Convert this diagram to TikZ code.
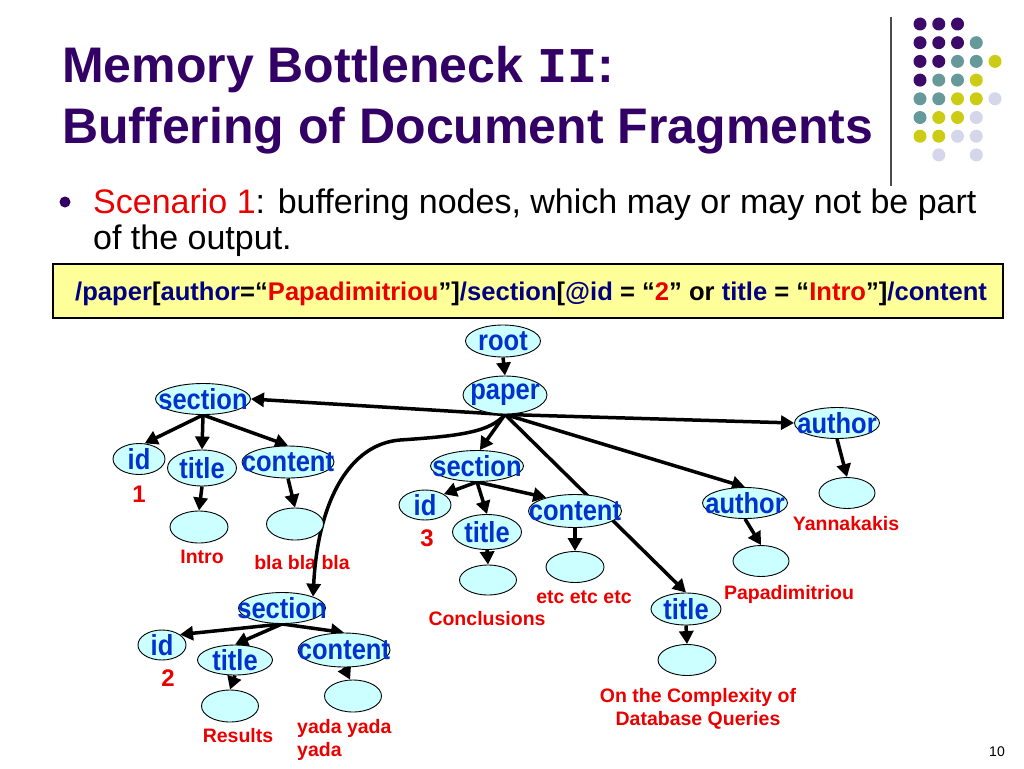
\documentclass[tikz,border=0pt]{standalone}
\usepackage{fontspec}
\setmainfont{Liberation Sans}
\newfontfamily\monof{Liberation Mono}
\newfontfamily\nodef[FakeStretch=0.88]{Liberation Sans}
\usetikzlibrary{arrows.meta,shapes.geometric}
\pgfdeclarelayer{bg}
\pgfdeclarelayer{mid}
\pgfsetlayers{bg,mid,main}
\definecolor{titlepurple}{RGB}{51,0,102}
\definecolor{dotpurple}{RGB}{60,10,105}
\definecolor{dotteal}{RGB}{102,153,153}
\definecolor{dotyellow}{RGB}{204,204,20}
\definecolor{dotlav}{RGB}{214,214,235}
\definecolor{nodefill}{RGB}{204,255,255}
\definecolor{nodeblue}{RGB}{0,51,204}
\definecolor{lblred}{RGB}{235,0,0}
\definecolor{qnavy}{RGB}{0,0,128}
\definecolor{qyellow}{RGB}{255,255,153}
\begin{document}
\begin{tikzpicture}[x=1pt,y=-1pt,
  en/.style 2 args={ellipse, draw=black, line width=0.9pt, fill=nodefill, inner sep=0pt, minimum width=#1pt, minimum height=#2pt},
  nt/.style={font=\nodef\bfseries\fontsize{29}{29}\selectfont, text=nodeblue, inner sep=0pt},
  arr/.style={line width=3.5pt, -{Triangle[length=13pt,width=14pt]}},
  rl/.style={font=\bfseries\fontsize{19.5}{23}\selectfont, text=lblred, align=center, inner sep=0pt},
  num/.style={font=\bfseries\fontsize{24}{24}\selectfont, text=lblred, inner sep=0pt}
]
\begin{pgfonlayer}{bg}
\fill[white] (0,0) rectangle (1024,768);
\end{pgfonlayer}
\useasboundingbox (0,0) rectangle (1024,768);

% decoration
\draw[line width=1.5pt, black!70] (891,17) -- (891,186);
\foreach \c/\r/\col in {0/0/dotpurple,1/0/dotpurple,2/0/dotpurple,
  0/1/dotpurple,1/1/dotpurple,2/1/dotpurple,3/1/dotteal,
  0/2/dotpurple,1/2/dotpurple,2/2/dotteal,3/2/dotteal,4/2/dotyellow,
  0/3/dotpurple,1/3/dotteal,2/3/dotteal,3/3/dotyellow,
  0/4/dotteal,1/4/dotteal,2/4/dotyellow,3/4/dotyellow,4/4/dotlav,
  0/5/dotteal,1/5/dotyellow,2/5/dotyellow,3/5/dotlav,
  0/6/dotyellow,1/6/dotyellow,2/6/dotlav,3/6/dotlav,
  1/7/dotlav,3/7/dotlav}
  \fill[\col] (920+18.75*\c, 24+18.7*\r) circle (6.5pt);

% title
\node[anchor=base west, inner sep=0pt, font=\bfseries\fontsize{50}{60}\selectfont, text=titlepurple] (t1line) at (62,82) {Memory Bottleneck {\monof II}:};
\node[anchor=base west, inner sep=0pt, font=\bfseries\fontsize{50}{60}\selectfont, text=titlepurple] (t2line) at (62,143) {Buffering of Document Fragments};

% bullet
\fill[titlepurple] (65,202) circle (5.5pt);
\node[anchor=base west, inner sep=0pt, font=\fontsize{34}{35}\selectfont] (b1) at (93,213) {\textcolor{lblred}{Scenario 1}: buffering nodes, which may or may not be part};
\node[anchor=base west, inner sep=0pt, font=\fontsize{34}{35}\selectfont] (b2) at (93,249) {of the output.};

% query box
\draw[line width=2.5pt, fill=qyellow] (53,264) rectangle (1003,318);
\node[anchor=base west, inner sep=0pt, font=\bfseries\fontsize{25.6}{26}\selectfont] (q) at (75,300) {\textcolor{qnavy}{/paper}[\textcolor{qnavy}{author}=“\textcolor{lblred}{Papadimitriou}”]\textcolor{qnavy}{/section}[\textcolor{qnavy}{@id} = “\textcolor{lblred}{2}” or \textcolor{qnavy}{title} = “\textcolor{lblred}{Intro}”]\textcolor{qnavy}{/content}};

% tree nodes
\node[en={75}{32}, label={[nt]center:root}] (root) at (503,341) {};
\node[en={84}{38}, label={[nt]center:paper}] (paper) at (505,395) {};
\node[en={95}{31}, label={[nt]center:section}] (s1) at (203,399) {};
\node[en={85}{31}, label={[nt]center:author}] (a1) at (837,423) {};
\node[en={52}{31}, label={[nt]center:id}] (id1) at (139,459) {};
\node[en={69}{36}, label={[nt]center:title}] (ti1) at (202,468) {};
\node[en={92}{32}, label={[nt]center:content}] (c1) at (288,462) {};
\node[en={58}{32}] (lt1) at (199,527) {};
\node[en={57}{32}] (lc1) at (295,524) {};
\node[en={93}{31}, label={[nt]center:section}] (s3) at (477,466) {};
\node[en={52}{30}, label={[nt]center:id}] (id3) at (425,505) {};
\node[en={69}{35}, label={[nt]center:title}] (ti3) at (487,532) {};
\node[en={93}{33}, label={[nt]center:content}] (c3) at (575,511) {};
\node[en={57}{30}] (lt3) at (488,580) {};
\node[en={58}{31}] (lc3) at (575,567) {};
\node[en={85}{31}, label={[nt]center:author}] (a2) at (745,503) {};
\node[en={56}{31}] (la2) at (761,561) {};
\node[en={56}{31}] (la1) at (847,493) {};
\node[en={70}{32}, label={[nt]center:title}] (ti4) at (686,609) {};
\node[en={58}{31}] (lt4) at (687,660) {};
\node[en={87}{31}, label={[nt]center:section}] (s2) at (282,608) {};
\node[en={48}{30}, label={[nt]center:id}] (id2) at (162,645) {};
\node[en={75}{30}, label={[nt]center:title}] (ti2) at (235,660) {};
\node[en={92}{34}, label={[nt]center:content}] (c2) at (344,650) {};
\node[en={57}{32}] (lt2) at (230,706) {};
\node[en={57}{32}] (lc2) at (353,696) {};

% labels
\begin{pgfonlayer}{bg}
\node[rl] (vintro) at (202,557) {Intro};
\node[rl] (vbla) at (302,563) {bla bla bla};
\node[rl] (vconc) at (487,619) {Conclusions};
\node[rl] (vetc) at (584,597) {etc etc etc};
\node[rl] (vpapa) at (789,594) {Papadimitriou};
\node[rl] (vyann) at (846,524) {Yannakakis};
\node[rl] (vcomp) at (698,709) {On the Complexity of\\Database Queries};
\node[rl] (vres) at (238,736) {Results};
\node[rl, align=left, anchor=west] (vyada) at (297,740) {yada yada\\yada};
\node[num] (n1) at (139,494) {1};
\node[num] (n3) at (427,538) {3};
\node[num] (n2) at (168,678) {2};
\node[inner sep=0pt, font=\fontsize{14}{14}\selectfont] (pg) at (997,752) {10};
\end{pgfonlayer}

% edges
\begin{pgfonlayer}{mid}
\draw[arr] (root.south) -- (paper.north);
\draw[arr] (paper.south) -- (s1.east);
\draw[arr] (paper.south) -- (a1.west);
\draw[arr] (paper.south) -- (s3.80);
\draw[arr] (paper.south) -- (ti4.north);
\draw[arr] (paper.south) -- (a2.north);
\draw[arr] (paper.south) .. controls (490,432) and (460,436) .. (400,440) .. controls (350,444) and (318,500) .. (s2.20);
\draw[arr] (s1.south) -- (id1.70);
\draw[arr] (s1.south) -- (ti1.north);
\draw[arr] (s1.south) -- (c1.north);
\draw[arr] (ti1.south) -- (lt1.north);
\draw[arr] (c1.south) -- (lc1.north);
\draw[arr] (s3.south) -- (id3.30);
\draw[arr] (s3.south) -- (ti3.north);
\draw[arr] (s3.south) -- (c3.155);
\draw[arr] (ti3.south) -- (lt3.north);
\draw[arr] (c3.south) -- (lc3.north);
\draw[arr] (a1.south) -- (la1.north);
\draw[arr] (a2.south) -- (la2.north);
\draw[arr] (ti4.south) -- (lt4.north);
\draw[arr] (s2.south) -- (id2.30);
\draw[arr] (s2.south) -- (ti2.north);
\draw[arr] (s2.south) -- (c2.north);
\draw[arr] (ti2.south) -- (lt2.north);
\draw[arr] (c2.south) -- (lc2.100);
\end{pgfonlayer}
\end{tikzpicture}
\end{document}
